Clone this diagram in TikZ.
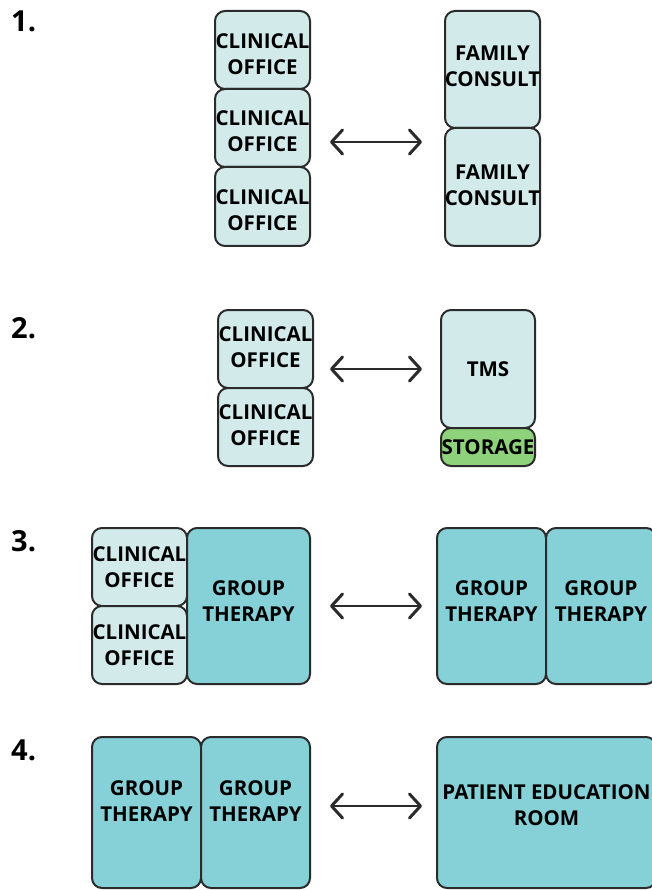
\documentclass[tikz,border=0pt]{standalone}
\usepackage{fontspec}
\setmainfont{Open Sans}
\usetikzlibrary{arrows.meta}
\definecolor{lightc}{HTML}{D2EAEA}
\definecolor{tealc}{HTML}{86D1D8}
\definecolor{greenc}{HTML}{8ED27C}
\definecolor{edge}{HTML}{2B2B2B}
% name, style, x1, y1, x2, y2, text raise (pt), text
\newcommand\room[8]{\node[#2, minimum width={#5-#3}, minimum height={#6-#4},
  label={[txt,yshift=#7pt]center:{#8}}] (#1) at ({(#3+#5)/2},{(#4+#6)/2}) {};}
\begin{document}
\begin{tikzpicture}[x=1pt,y=-1pt,
  box/.style={draw=edge, line width=2pt, rounded corners=10pt, inner sep=0pt},
  txt/.style={align=center, inner sep=0pt, font=\bfseries\fontsize{20.5}{26}\selectfont},
  light/.style={box, fill=lightc},
  teal/.style={box, fill=tealc},
  green/.style={box, fill=greenc},
  num/.style={font=\bfseries\fontsize{29}{30}\selectfont, anchor=north west, inner sep=0pt},
  barb/.tip={Straight Barb[length=11pt,width=24pt,line width=3pt,line cap=round,line join=round]},
  link/.style={draw=edge, line width=2.2pt, line cap=round, arrows={barb-barb}}]
\useasboundingbox (0,0) rectangle (652,890);
\clip (0,0) rectangle (652,890);
% section 1
\node[num] (n1) at (11,11) {1.};
\room{c11}{light}{215}{11}{310}{89}{-4}{CLINICAL\\OFFICE}
\room{c12}{light}{215}{89}{310}{167}{-3}{CLINICAL\\OFFICE}
\room{c13}{light}{215}{167}{310}{246}{-4}{CLINICAL\\OFFICE}
\room{f11}{light}{445}{11}{540}{128}{3}{FAMILY\\CONSULT}
\room{f12}{light}{445}{128}{540}{246}{2}{FAMILY\\CONSULT}
\coordinate (a1) at (330,142); \coordinate (b1) at (422,142);
\draw[link] (a1) -- (b1);
% section 2
\node[num] (n2) at (11,317) {2.};
\room{c21}{light}{218}{310}{313}{388}{2}{CLINICAL\\OFFICE}
\room{c22}{light}{218}{388}{313}{466}{2}{CLINICAL\\OFFICE}
\room{tms}{light}{441}{310}{535}{428}{0}{TMS}
\room{sto}{green}{441}{428}{535}{466}{0}{STORAGE}
\coordinate (a2) at (330,369); \coordinate (b2) at (422,369);
\draw[link] (a2) -- (b2);
% section 3
\node[num] (n3) at (11,530) {3.};
\room{c31}{light}{92}{528}{187}{606}{0}{CLINICAL\\OFFICE}
\room{c32}{light}{92}{606}{187}{684}{0}{CLINICAL\\OFFICE}
\room{g31}{teal}{187}{528}{310}{684}{5}{GROUP\\THERAPY}
\room{g32}{teal}{437}{528}{546}{684}{5}{GROUP\\THERAPY}
\room{g33}{teal}{546}{528}{656}{684}{5}{GROUP\\THERAPY}
\coordinate (a3) at (330,606); \coordinate (b3) at (422,606);
\draw[link] (a3) -- (b3);
% section 4
\node[num] (n4) at (11,740) {4.};
\room{g41}{teal}{92}{737}{201}{888}{11}{GROUP\\THERAPY}
\room{g42}{teal}{201}{737}{310}{888}{11}{GROUP\\THERAPY}
\room{per}{teal}{437}{737}{656}{888}{7}{PATIENT EDUCATION\\ROOM}
\coordinate (a4) at (330,806); \coordinate (b4) at (422,806);
\draw[link] (a4) -- (b4);
\end{tikzpicture}
\end{document}
